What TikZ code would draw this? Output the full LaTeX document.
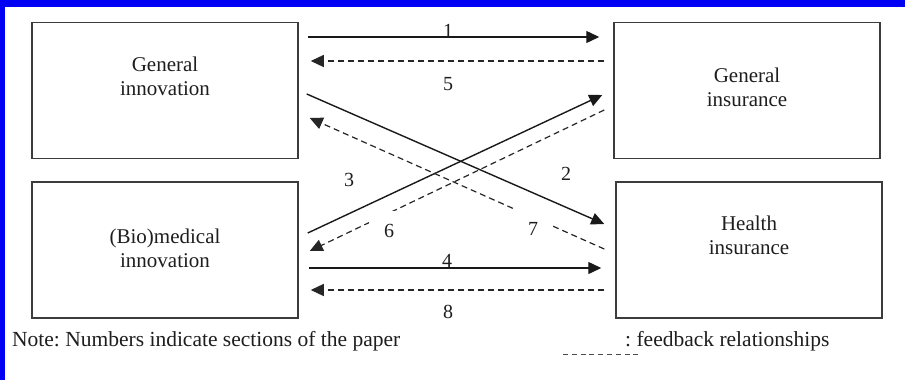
\documentclass[tikz,border=0pt]{standalone}
\usepackage{fontspec}
\setmainfont{Liberation Serif}
\usetikzlibrary{arrows.meta,calc}
\definecolor{txt}{HTML}{1E1E1E}
\definecolor{boxline}{HTML}{3C3C3C}
\definecolor{frameblue}{HTML}{0000F5}
\setlength{\tabcolsep}{0pt}
\renewcommand{\arraystretch}{1}
\frenchspacing
\tikzset{
  box/.style={draw=boxline, line width=1.5pt, minimum width=266pt, minimum height=136pt, inner sep=0pt},
  boxtext/.style={anchor=base, inner sep=0pt, text=txt, font=\fontsize{21}{24}\selectfont},
  solidarrow/.style={draw=black!90, line width=1.4pt, -{Triangle[length=13pt,width=12pt]}},
  feedback/.style={draw=black!85, line width=1.2pt, dash pattern=on 6pt off 4pt, -{Triangle[length=13pt,width=12pt]}},
  numlabel/.style={anchor=base, inner sep=0pt, text=txt, font=\fontsize{20}{24}\selectfont},
  gaplabel/.style={fill=white, minimum width=40pt, minimum height=40pt, inner sep=0pt, text=txt, font=\fontsize{20}{24}\selectfont},
  notetext/.style={anchor=base west, inner sep=0pt, text=txt, font=\fontsize{21.5}{24}\selectfont}
}
\begin{document}
\begin{tikzpicture}[x=1pt, y=-1pt]
\useasboundingbox (0,0) rectangle (905,380);
\fill[white] (0,0) rectangle (905,380);
\fill[frameblue] (0,0) rectangle (905,7);
\fill[frameblue] (0,0) rectangle (5,380);

% boxes
\node[box] (gi) at (165,90.5) {};
\node[box] (gins) at (747,90.5) {};
\node[box] (bi) at (165,250) {};
\node[box] (hi) at (749,250) {};

% box texts
\node[boxtext] (gi-text) at (165,71) {\begin{tabular}[t]{c}General\\innovation\end{tabular}};
\node[boxtext] (gins-text) at (747,82) {\begin{tabular}[t]{c}General\\insurance\end{tabular}};
\node[boxtext] (bi-text) at (165,243) {\begin{tabular}[t]{c}(Bio)medical\\innovation\end{tabular}};
\node[boxtext] (hi-text) at (749,230) {\begin{tabular}[t]{c}Health\\insurance\end{tabular}};

% connectors
\draw[solidarrow] ($(gi.east)+(9,-53.5)$) -- ($(gins.west)+(-14,-53.5)$);
\draw[feedback] ($(gins.west)+(-9,-29.5)$) -- ($(gi.east)+(12,-29.5)$);
\draw[solidarrow] ($(gi.east)+(8,3.5)$) -- ($(hi.west)+(-11,-26)$);
\draw[solidarrow] ($(bi.east)+(9,-17)$) -- ($(gins.west)+(-11,4.5)$);
\draw[feedback] ($(gins.west)+(-9,19.5)$) -- ($(bi.east)+(11,1)$);
\draw[feedback] ($(hi.west)+(-11,-1)$) -- ($(gi.east)+(11,27.5)$);
\draw[solidarrow] ($(bi.east)+(10,18)$) -- ($(hi.west)+(-14,18)$);
\draw[feedback] ($(hi.west)+(-11,40)$) -- ($(bi.east)+(12,40)$);

% section numbers
\node[numlabel] (n1) at (448,37) {1};
\node[numlabel] (n5) at (448,90) {5};
\node[numlabel] (n2) at (566,180) {2};
\node[numlabel] (n3) at (349,186) {3};
\node[gaplabel] (n6) at (389,230.5) {6};
\node[gaplabel] (n7) at (533,228.5) {7};
\node[numlabel] (n4) at (447,267) {4};
\node[numlabel] (n8) at (448,318) {8};

% note and legend
\node[notetext] (note) at (12,346) {Note: Numbers indicate sections of the paper};
\node[notetext] (legend) at (625,346) {: feedback relationships};
\coordinate (leg-a) at (563,354);
\coordinate (leg-b) at (642,354);
\draw[draw=black!70, line width=0.9pt, dash pattern=on 5pt off 3.8pt] (leg-a) -- (leg-b);
\end{tikzpicture}
\end{document}
